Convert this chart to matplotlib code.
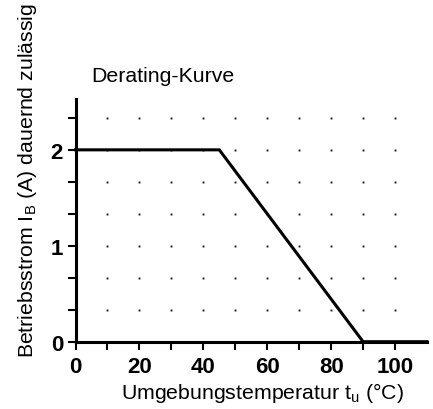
import numpy as np
import matplotlib
matplotlib.use("Agg")
import matplotlib.pyplot as plt

# derating curve
temp = [0, 45, 90, 110]
current = [2, 2, 0, 0]

x_ticks = [0, 20, 40, 60, 80, 100]
y_ticks = [0, 1, 2]
x_minor = [10, 30, 50, 70, 90]
y_minor = [1/3, 2/3, 4/3, 5/3, 7/3]
dot_x = [10, 20, 30, 40, 50, 60, 70, 80, 90, 100]
dot_y = [1/3, 2/3, 1, 4/3, 5/3, 2, 7/3]

fig = plt.figure(figsize=(4.33, 4.10), dpi=100)
ax = fig.add_axes([75.5/433, 67.3/410, 351.5/433, 242.7/410])

# dot grid
gx, gy = np.meshgrid(dot_x, dot_y)
ax.plot(gx.ravel(), gy.ravel(), ls='none', marker='s', ms=1.4, color='#222222', mew=0)

ax.plot(temp, current, color='black', lw=2.2, solid_joinstyle='miter', clip_on=False)

ax.set_xlim(0, 110)
ax.set_ylim(0, 2.53)
for s in ['top', 'right']:
    ax.spines[s].set_visible(False)
for s in ['left', 'bottom']:
    ax.spines[s].set_linewidth(2.2)

ax.set_xticks(x_ticks)
ax.set_yticks(y_ticks)
ax.set_xticks(x_minor, minor=True)
ax.set_yticks(y_minor, minor=True)
ax.tick_params(which='both', direction='out', width=1.5, color='black')
ax.tick_params(axis='x', which='both', length=6, pad=4)
ax.tick_params(axis='y', which='both', length=6, pad=3)
for lab in ax.get_xticklabels() + ax.get_yticklabels():
    lab.set_fontsize(16)
    lab.set_fontweight('bold')
    lab.set_family('Liberation Sans')

fig.text(91/433, 1 - 77/410, 'Derating-Kurve', fontsize=15.3, family='Liberation Sans',
         ha='left', va='center')
fig.text(262/433, 1 - 393/410, r'Umgebungstemperatur t$_\mathregular{u}$ (°C)', fontsize=15.3,
         family='Liberation Sans', ha='center', va='center')
fig.text(28/433, 1 - 180/410, r'Betriebsstrom I$_\mathregular{B}$ (A) dauernd zulässig', fontsize=15.3,
         family='Liberation Sans', ha='center', va='center', rotation=90)

fig.savefig('out.png', dpi=100)
